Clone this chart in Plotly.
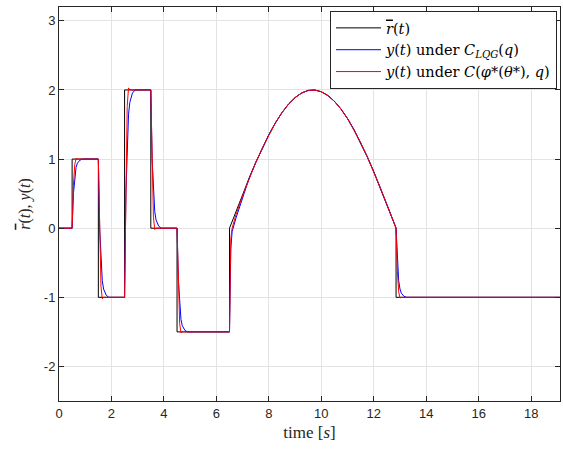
import plotly.graph_objects as go

# arc of the reference
arc_t = [7.25, 7.5, 7.75, 8.0, 8.25, 8.5, 8.75, 9.0, 9.25, 9.5, 9.75, 10.0,
         10.25, 10.5, 10.75, 11.0, 11.25, 11.5, 11.75, 12.0, 12.25, 12.5, 12.75]
arc_y = [0.725, 0.95, 1.159, 1.352, 1.523, 1.672, 1.795, 1.889, 1.956, 1.993, 1.999, 1.974,
         1.919, 1.836, 1.724, 1.586, 1.423, 1.24, 1.035, 0.817, 0.587, 0.344, 0.099]

# reference r(t)
ref_t = [0, 0.5, 0.5, 1.5, 1.5, 2.5, 2.5, 3.5, 3.5, 4.5, 4.5, 6.5, 6.5, 6.75, 7.0] + arc_t + [12.85, 12.85, 19.1]
ref_y = [0, 0, 1, 1, -1, -1, 2, 2, 0, 0, -1.5, -1.5, 0, 0.247, 0.49] + arc_y + [0, -1, -1]

# y(t) under C_LQG(q)
lqg_t = [0, 0.5, 0.55, 0.6, 0.65, 0.7, 0.8, 0.9,
         1.5, 1.55, 1.6, 1.65, 1.7, 1.8, 1.9,
         2.5, 2.55, 2.6, 2.65, 2.7, 2.8, 2.9,
         3.5, 3.55, 3.6, 3.65, 3.7, 3.8, 3.9,
         4.5, 4.55, 4.6, 4.65, 4.7, 4.8, 4.9,
         6.5, 6.55, 6.6, 6.75, 7.0] + arc_t + [12.85, 12.9, 12.95, 13.0, 13.05, 13.15, 13.25, 19.1]
lqg_y = [0, 0, 0.5, 0.76, 0.88, 0.94, 0.985, 1,
         1, 0, -0.52, -0.76, -0.88, -0.97, -1,
         -1, 0.5, 1.28, 1.64, 1.82, 1.955, 2,
         2, 1.0, 0.48, 0.24, 0.12, 0.03, 0,
         0, -0.75, -1.14, -1.32, -1.41, -1.478, -1.5,
         -1.5, -0.3, -0.05, 0.15, 0.44] + arc_y + [0, -0.5, -0.76, -0.88, -0.94, -0.985, -1, -1]

# y(t) under C(phi*(theta*), q)
opt_t = [0, 0.5, 0.55, 0.6, 0.65, 0.7,
         1.5, 1.55, 1.6, 1.65, 1.7,
         2.5, 2.55, 2.6, 2.65, 2.7,
         3.5, 3.55, 3.6, 3.65, 3.7,
         4.5, 4.55, 4.6, 4.65, 4.7,
         6.5, 6.55, 6.6, 6.75, 7.0] + arc_t + [12.85, 12.9, 12.95, 13.0, 13.05, 19.1]
opt_y = [0, 0, 0.62, 0.92, 1.01, 1,
         1, -0.24, -0.84, -1.02, -1,
         -1, 0.86, 1.76, 2.03, 2,
         2, 0.76, 0.16, -0.02, 0,
         0, -0.93, -1.38, -1.515, -1.5,
         -1.5, -0.15, 0.0, 0.2, 0.47] + arc_y + [0, -0.62, -0.92, -1.01, -1, -1]

y_ticks = [-2, -1, 0, 1, 2, 3]
y_tick_text = ['-2', '-1', '0', '1', '2', '3']
x_ticks = [0, 2, 4, 6, 8, 10, 12, 14, 16, 18]

serif = 'Liberation Serif'
rbar = '<span style="text-decoration:overline"><i>r</i></span>'

fig = go.Figure()
fig.add_trace(go.Scatter(x=ref_t, y=ref_y, mode='lines', line=dict(color='black', width=1),
                         name=rbar + '(<i>t</i>)'))
fig.add_trace(go.Scatter(x=lqg_t, y=lqg_y, mode='lines', line=dict(color='#0000ff', width=1),
                         name='<i>y</i>(<i>t</i>) under <i>C</i><sub><i>LQG</i></sub>(<i>q</i>)'))
fig.add_trace(go.Scatter(x=opt_t, y=opt_y, mode='lines', line=dict(color='#ff0000', width=1),
                         name='<i>y</i>(<i>t</i>) under <i>C</i>(<i>φ</i>*(<i>θ</i>*), <i>q</i>)'))

fig.update_layout(width=563, height=450, margin=dict(l=59, r=3, t=7, b=49),
                  paper_bgcolor='white', plot_bgcolor='white',
                  font=dict(family='Liberation Sans', size=13, color='#262626'),
                  legend=dict(x=0.994, y=0.99, xanchor='right', yanchor='top',
                              bgcolor='white', bordercolor='#262626', borderwidth=1,
                              font=dict(family='DejaVu Serif', size=14.5, color='black'),
                              itemwidth=45, tracegroupgap=0))
fig.update_xaxes(range=[0, 19.1], tickvals=x_ticks, showgrid=True, gridcolor='#e3e3e3',
                 showline=True, linecolor='#262626', linewidth=1, mirror='ticks',
                 ticks='inside', ticklen=5, tickcolor='#262626', zeroline=False,
                 title=dict(text='time [<i>s</i>]', font=dict(family=serif, size=17, color='#262626'),
                            standoff=6))
fig.update_yaxes(range=[-2.5, 3.2], tickvals=y_ticks, ticktext=y_tick_text, showgrid=True,
                 gridcolor='#e3e3e3', showline=True, linecolor='#262626', linewidth=1,
                 mirror='ticks', ticks='inside', ticklen=5, tickcolor='#262626', zeroline=False,
                 title=dict(text=rbar + '(<i>t</i>), <i>y</i>(<i>t</i>)',
                            font=dict(family=serif, size=16, color='#262626'), standoff=9))

fig.write_html("out.html", config={'displayModeBar': False},
               post_script="document.body.style.margin='0';")
